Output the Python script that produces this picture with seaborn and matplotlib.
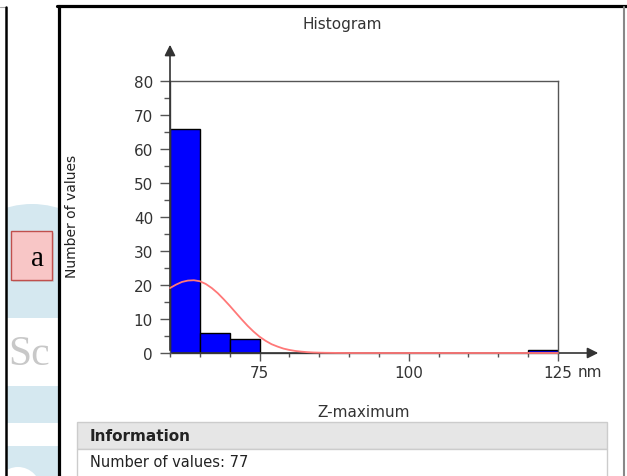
#!/usr/bin/env python3
"""Z-maximum histogram panel with fitted normal curve."""

import matplotlib
matplotlib.use("Agg")
import matplotlib.pyplot as plt
import numpy as np
import seaborn as sns
from matplotlib.patches import Ellipse, FancyBboxPatch, Rectangle

OUTPUT_PATH = "out.png"

# histogram: bin centres (nm) and number of values in each bin
bin_centers = [62.5, 67.5, 72.5, 122.5]
bin_counts = [66, 6, 4, 1]

# fitted normal curve
curve_x = [60, 61, 62, 63, 64, 65, 66, 67, 68, 69, 70, 71, 72, 73, 74, 75,
           76, 77, 78, 79, 80, 81, 82, 83, 84, 85, 86, 88, 90, 125]
curve_y = [19.1, 20.1, 20.9, 21.3, 21.4, 21.1, 20.3, 19.1, 17.6, 15.8, 13.9,
           11.9, 9.9, 8.0, 6.3, 4.8, 3.6, 2.6, 1.9, 1.3, 0.9, 0.6, 0.4, 0.25,
           0.15, 0.1, 0.06, 0.02, 0.0, 0.0]

x_ticks = [75, 100, 125]
x_tick_labels = ["75", "100", "125"]
y_ticks = [0, 10, 20, 30, 40, 50, 60, 70, 80]

W, H = 627, 477
AX_COLOR = "#555555"
TEXT_COLOR = "#333333"
LIGHT_BLUE = "#d5e8f0"


def draw_background(fig):
    bg = fig.add_axes([0, 0, 1, 1], zorder=0)
    bg.set_xlim(0, W)
    bg.set_ylim(H, 0)
    bg.axis("off")

    # decorative strip on the left, clipped to the strip
    strip = Rectangle((7, 0), 50.5, H, transform=bg.transData)
    deco = [
        Ellipse((32, 330), 210, 250, fc=LIGHT_BLUE, ec="none"),
        Rectangle((7, 319), 51, 68, fc="white", ec="none"),
        Rectangle((7, 387), 51, 37, fc=LIGHT_BLUE, ec="none"),
        Rectangle((7, 424), 51, 23, fc="white", ec="none"),
        Rectangle((7, 447), 51, 30, fc=LIGHT_BLUE, ec="none"),
        Ellipse((18, 492), 46, 48, fc="white", ec="none"),
    ]
    for p in deco:
        bg.add_patch(p)
        p.set_clip_path(strip)
    sc = bg.text(8, 355, "Sc", fontsize=30, family="Liberation Serif",
                 color="#c8c8c8", ha="left", va="center")
    sc.set_clip_path(strip)

    # "a" label box
    bg.add_patch(FancyBboxPatch((13, 234), 41, 49, boxstyle="square,pad=0",
                                fc="#bbbbbb", ec="none", alpha=0.5))
    bg.add_patch(FancyBboxPatch((11, 232), 41, 49, boxstyle="square,pad=0",
                                fc="#f8c6c6", ec="#c0504d", lw=1.0))
    bg.text(38, 259, "a", fontsize=21, family="Liberation Serif",
            color="black", ha="center", va="center")

    # frames
    bg.plot([0, 6], [8, 8], color="#aaaaaa", lw=0.8)
    bg.plot([6, 6], [8, H], color="black", lw=1.8)
    bg.plot([58.5, 58.5], [7, H], color="black", lw=2.3)
    bg.plot([57, W], [7, 7], color="black", lw=2.3)
    bg.plot([623.5, 623.5], [8, H], color="#888888", lw=1.5)

    # information table
    bg.add_patch(Rectangle((77, 423), 530, 27, fc="#e6e6e6", ec="#cccccc", lw=1))
    bg.add_patch(Rectangle((77, 450), 530, 35, fc="white", ec="#cccccc", lw=1))
    bg.text(90, 437, "Information", fontsize=11, fontweight="bold",
            color="#222222", ha="left", va="center")
    bg.text(90, 463, "Number of values: 77", fontsize=10.5,
            color="#222222", ha="left", va="center")

    # titles
    bg.text(342, 25, "Histogram", fontsize=11, color=TEXT_COLOR,
            ha="center", va="center")
    bg.text(364, 413, "Z-maximum", fontsize=11, color=TEXT_COLOR,
            ha="center", va="center")
    bg.text(72, 216, "Number of values", fontsize=10, color="#222222",
            rotation=90, ha="center", va="center")
    bg.text(578, 373, "nm", fontsize=11, color=TEXT_COLOR,
            ha="left", va="center")


def main():
    sns.set_style("white")
    plt.rcParams["font.family"] = ["DejaVu Sans"]

    fig = plt.figure(figsize=(W / 100, H / 100), dpi=100)
    draw_background(fig)

    ax = fig.add_axes([170 / W, (H - 354) / H, 388 / W, 272 / H], zorder=1)
    ax.patch.set_alpha(0)

    sns.histplot(x=bin_centers, weights=bin_counts, binwidth=5,
                 binrange=(60, 125), color="#0000ff", alpha=1,
                 edgecolor="black", linewidth=1, ax=ax)
    for patch in ax.patches:
        if patch.get_height() == 0:
            patch.set_visible(False)

    sns.lineplot(x=curve_x, y=curve_y, color="#ff7878", lw=1.3,
                 ax=ax, zorder=5)
    for ln in ax.lines:
        ln.set_clip_on(False)

    ax.set_xlim(60, 125)
    ax.set_ylim(0, 80)
    ax.set_xlabel("")
    ax.set_ylabel("")

    ax.set_xticks(x_ticks)
    ax.set_xticklabels(x_tick_labels)
    ax.set_xticks(np.arange(60, 126, 5), minor=True)
    ax.set_yticks(y_ticks)
    ax.set_yticks(np.arange(5, 80, 10), minor=True)

    ax.tick_params(axis="both", which="both", direction="out",
                   color=AX_COLOR, width=1, labelsize=11,
                   labelcolor=TEXT_COLOR)
    ax.tick_params(axis="y", which="major", length=7.2, pad=5)
    ax.tick_params(axis="y", which="minor", length=4)
    ax.tick_params(axis="x", which="major", length=5.8, pad=3)
    ax.tick_params(axis="x", which="minor", length=3)
    ax.tick_params(left=True, bottom=True, which="both")

    for side in ["top", "right", "left", "bottom"]:
        ax.spines[side].set_visible(True)
        ax.spines[side].set_color(AX_COLOR)
        ax.spines[side].set_linewidth(1)

    arrow = dict(arrowstyle="-|>", color="#333333", lw=1.2, mutation_scale=16)
    ax.annotate("", xy=(0, (354 - 43) / 272), xytext=(0, 0),
                xycoords="axes fraction", arrowprops=arrow,
                annotation_clip=False)
    ax.annotate("", xy=((601 - 170) / 388, 0), xytext=(0, 0),
                xycoords="axes fraction", arrowprops=arrow,
                annotation_clip=False)

    fig.savefig(OUTPUT_PATH, dpi=100)
    plt.close(fig)


if __name__ == "__main__":
    main()
